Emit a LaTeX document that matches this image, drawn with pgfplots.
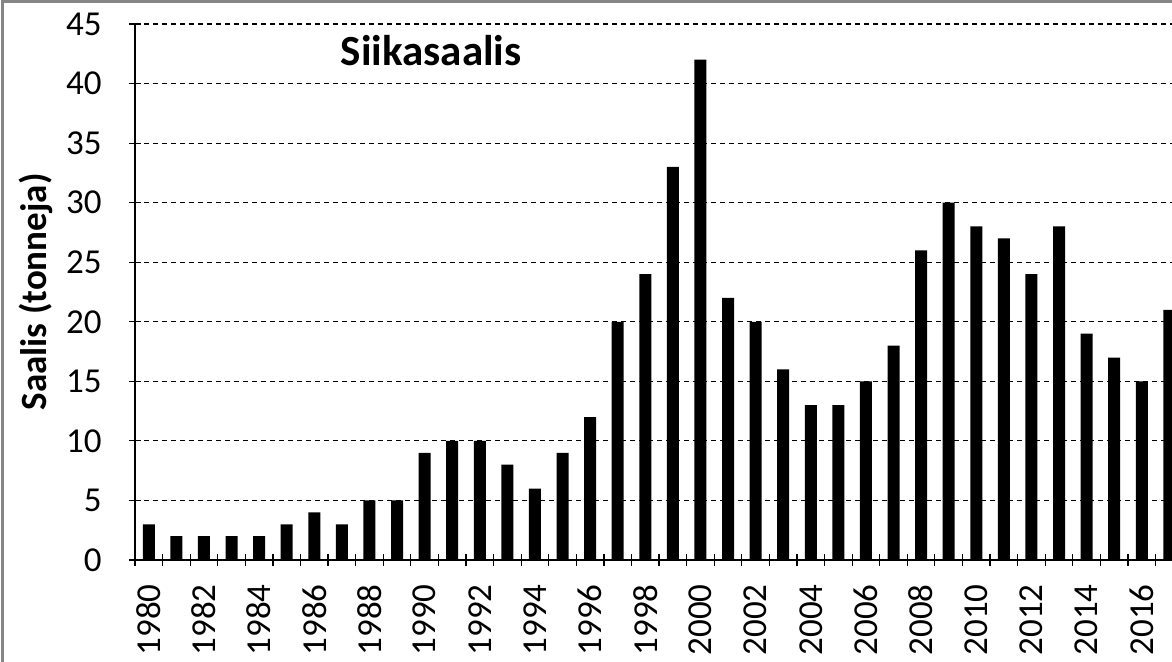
\documentclass[border=0pt]{standalone}
\usepackage{fontspec}
\setmainfont{Carlito}
\usepackage{pgfplots}
\pgfplotsset{compat=1.18}
\definecolor{frame}{RGB}{134,134,134}
\begin{document}
\begin{tikzpicture}
\begin{axis}[
  scale only axis, width=518.5pt, height=268pt,
  at={(0,0)}, anchor=south west,
  xmin=-0.5, xmax=37.1, ymin=0, ymax=45,
  ytick={0,5,...,45},
  xtick={0,2,...,36},
  xticklabels={1980,1982,1984,1986,1988,1990,1992,1994,1996,1998,2000,2002,2004,2006,2008,2010,2012,2014,2016},
  minor xtick={-0.5,0.5,...,36.5},
  major x tick style={draw=none},
  minor x tick style={black, line width=0.6pt},
  major y tick style={black, line width=0.6pt},
  tick align=outside, major tick length=6pt, minor tick length=6pt,
  ymajorgrids, grid style={black, dash pattern=on 2.5pt off 2pt, line width=0.6pt},
  axis lines=left, axis line style={-, line width=0.6pt},
  /pgf/number format/assume math mode=true,
  yticklabel style={font=\fontsize{17.5}{20}\selectfont, inner sep=0pt, xshift=-13.5pt},
  xticklabel style={font=\fontsize{17.5}{20}\selectfont, rotate=90, anchor=east, inner sep=0pt, xshift=-9pt},
  every axis y label/.style={at={(axis description cs:0,0.5)}, xshift=-49.5pt, rotate=90, anchor=center, font=\fontsize{18.5}{20}\selectfont\bfseries},
  ylabel={Saalis (tonneja)},
]
\addplot[ybar, bar width=6pt, fill=black, draw=none] coordinates {
(0,3) (1,2) (2,2) (3,2) (4,2) (5,3) (6,4) (7,3) (8,5) (9,5)
(10,9) (11,10) (12,10) (13,8) (14,6) (15,9) (16,12) (17,20) (18,24) (19,33)
(20,42) (21,22) (22,20) (23,16) (24,13) (25,13) (26,15) (27,18) (28,26) (29,30)
(30,28) (31,27) (32,24) (33,28) (34,19) (35,17) (36,15) (37,21)
};
\node[font=\fontsize{21.5}{24}\selectfont\bfseries, anchor=base] at (rel axis cs:0.2855,0.9235) {Siikasaalis};
\end{axis}
\pgfresetboundingbox
\useasboundingbox (-67.5pt,-51pt) rectangle (518.5pt,280pt);
\draw[frame, line width=1.5pt] (-66pt,-70pt) rectangle (540pt,279pt);
\end{tikzpicture}
\end{document}
